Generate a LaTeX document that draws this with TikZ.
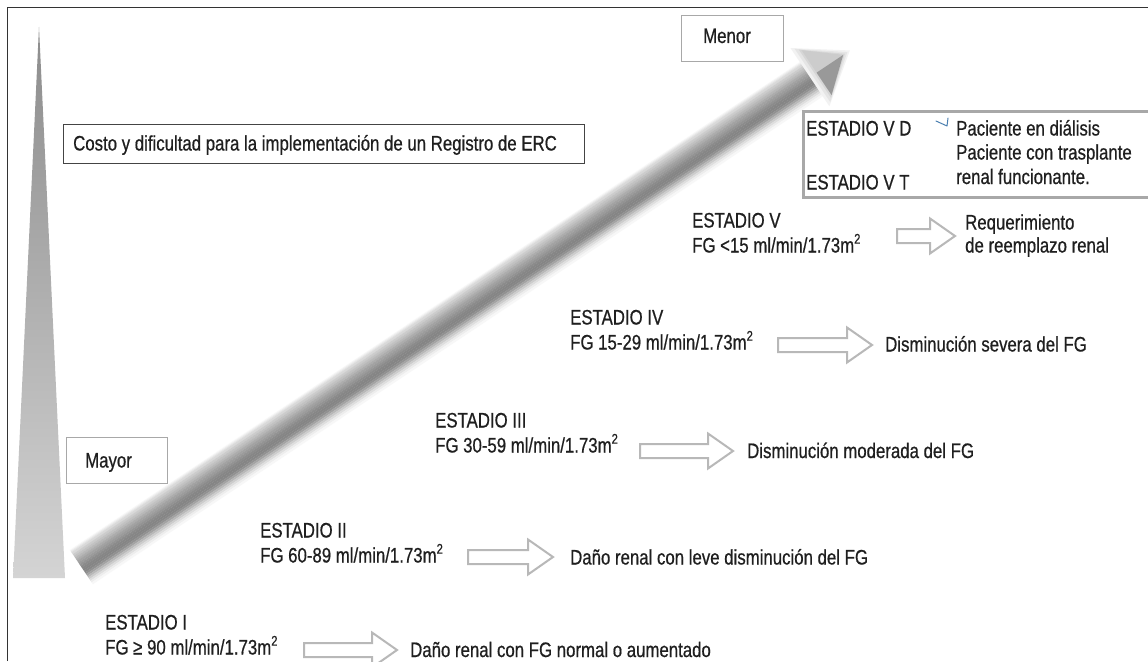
\documentclass[tikz,border=0pt]{standalone}
\usepackage{fontspec}
\setmainfont[FakeStretch=0.8,FakeBold=0.6]{Liberation Sans}
\definecolor{framecol}{HTML}{333333}
\definecolor{darkbox}{HTML}{444444}
\definecolor{softedge}{HTML}{A8A8A8}
\definecolor{arrowedge}{HTML}{B8B8B8}
\definecolor{tickblue}{HTML}{4A7FB0}
\definecolor{wedgetop}{HTML}{8C8C8C}
\definecolor{wedgebot}{HTML}{D4D4D4}
\tikzset{
  lbl/.style={anchor=base west, inner sep=0pt, text=black!88},
  darkframe/.style={draw=darkbox, line width=1.3pt, fill=white, anchor=north west, inner sep=0pt},
  softframe/.style={draw=softedge, line width=1pt, fill=white, anchor=north west, inner sep=0pt},
  stagebox/.style={draw=softedge, line width=2.6pt, fill=white, anchor=north west, inner sep=0pt},
  stagearrow/.style={draw=arrowedge, line width=2pt, fill=white, line join=miter},
}
% squared unit exponent
\newcommand\sqexp{\raisebox{0.42em}{\fontsize{14}{14}\selectfont 2}}
% hollow block arrow from x=#1 to x=#2 at height #3
\newcommand\StageArrow[3]{%
  \draw[stagearrow] (#1,#3-7) -- (#2-25,#3-7) -- (#2-25,#3-17.5) -- (#2,#3)
    -- (#2-25,#3+17.5) -- (#2-25,#3+7) -- (#1,#3+7) -- cycle;}
\begin{document}
\begin{tikzpicture}[x=1pt,y=-1pt,font=\fontsize{21}{25}\selectfont]
\useasboundingbox (0,0) rectangle (1148,661);
\fill[white] (0,0) rectangle (1148,661);

% outer frame (top and left sides)
\draw[framecol, line width=1.6pt] (7.5,661) -- (7.5,7.5) -- (1148,7.5);

% tapering wedge on the left
\shade[top color=wedgetop, bottom color=wedgebot] (39,27) -- (65,578) -- (13,578) -- cycle;

% long diagonal arrow with soft shading
\coordinate (diagstart) at (80,565);
\begin{scope}[shift={(diagstart)}, rotate=33.76]
  \foreach \d/\g in {-17/97,-16/93,-15/89,-14/85,-12/80,-10/76,-8/72,-6/68,-4/64,-2/61,0/58,2/55,4/53,6/52,8/53,10/57,12/64,14/72,16/80,18/87,20/93,22/97}
    \draw[line width=2.2pt, color=white!\g!black] (0,\d) -- (888,\d);
  % soft shadow under the head
  \foreach \s/\g in {8/95,5/90,2/84}
    \fill[color=white!\g!black] (886-\s,-27-\s) -- (918+\s,0) -- (886-\s,27+\s) -- cycle;
  % arrow head facets
  \fill[white!80!black] (886,-27) -- (918,0) -- (886,0) -- cycle;
  \fill[white!60!black] (886,0) -- (918,0) -- (886,27) -- cycle;
  \coordinate (diagtip) at (918,0);
\end{scope}

% boxes
\node[darkframe, minimum width=521pt, minimum height=39pt] (costo) at (63,124) {};
\node[lbl] (costotext) at (73,150.5) {Costo y dificultad para la implementación de un Registro de ERC};
\node[softframe, minimum width=102pt, minimum height=46pt] (menor) at (681,15) {};
\node[lbl] (menortext) at (703,43) {Menor};
\node[softframe, minimum width=101pt, minimum height=46pt] (mayor) at (66,437) {};
\node[lbl] (mayortext) at (85,467.5) {Mayor};

% stage V sub-classification box
\node[stagebox, minimum width=360pt, minimum height=86pt] (vbox) at (802,110) {};
\node[lbl] (vd) at (806,135.5) {ESTADIO V D};
\node[lbl] (vt) at (806,189.5) {ESTADIO V T};
\node[lbl] (vd1) at (956,135.5) {Paciente en diálisis};
\node[lbl] (vd2) at (956,159.5) {Paciente con trasplante};
\node[lbl] (vd3) at (956,184) {renal funcionante.};
\draw[tickblue, line width=1pt, line cap=round, line join=round] (936,121) -- (947,126) -- (948,118);

% stage V
\node[lbl] (s5a) at (692,227.5) {ESTADIO V};
\node[lbl] (s5b) at (692,252.5) {FG <15 ml/min/1.73m\sqexp};
\StageArrow{897}{955}{236}
\node[lbl] (s5c) at (965,229.5) {Requerimiento};
\node[lbl] (s5d) at (965,252.5) {de reemplazo renal};

% stage IV
\node[lbl] (s4a) at (570,324.5) {ESTADIO IV};
\node[lbl] (s4b) at (570,349.5) {FG 15-29 ml/min/1.73m\sqexp};
\StageArrow{778}{872}{345}
\node[lbl] (s4c) at (885,351.5) {Disminución severa del FG};

% stage III
\node[lbl] (s3a) at (435,427.5) {ESTADIO III};
\node[lbl] (s3b) at (435,452.5) {FG 30-59 ml/min/1.73m\sqexp};
\StageArrow{640}{733}{451}
\node[lbl] (s3c) at (747,458) {Disminución moderada del FG};

% stage II
\node[lbl] (s2a) at (260,537.5) {ESTADIO II};
\node[lbl] (s2b) at (260,562.5) {FG 60-89 ml/min/1.73m\sqexp};
\StageArrow{468}{553}{557}
\node[lbl] (s2c) at (570,564.5) {Daño renal con leve disminución del FG};

% stage I
\node[lbl] (s1a) at (105,629.5) {ESTADIO I};
\node[lbl] (s1b) at (105,654.5) {FG ≥ 90 ml/min/1.73m\sqexp};
\StageArrow{304}{397}{650}
\node[lbl] (s1c) at (410,657) {Daño renal con FG normal o aumentado};
\end{tikzpicture}
\end{document}
